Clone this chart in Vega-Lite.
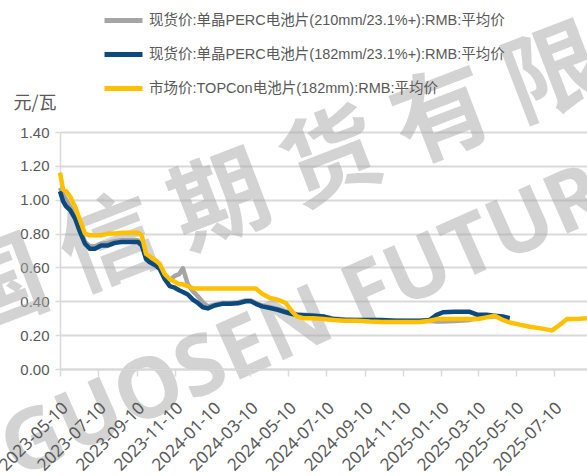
{
  "$schema": "https://vega.github.io/schema/vega-lite/v6.json",
  "autosize": "none",
  "width": 527,
  "height": 237,
  "padding": {"left": 60, "top": 132, "right": 0, "bottom": 107},
  "background": "white",
  "config": {"view": {"stroke": null}},
  "data": {"values": [
    {"date": "2023-05-10", "p210": 1.07, "p182": 1.05, "top": 1.16},
    {"date": "2023-05-15", "p210": 1.03, "p182": 0.99, "top": 1.06},
    {"date": "2023-05-20", "p210": 1.00, "p182": 0.96, "top": 1.05},
    {"date": "2023-05-26", "p210": 0.96, "p182": 0.94, "top": 1.02},
    {"date": "2023-06-03", "p210": 0.91, "p182": 0.89, "top": 0.96},
    {"date": "2023-06-11", "p210": 0.83, "p182": 0.81, "top": 0.88},
    {"date": "2023-06-19", "p210": 0.75, "p182": 0.74, "top": 0.80},
    {"date": "2023-06-27", "p210": 0.725, "p182": 0.71, "top": 0.79},
    {"date": "2023-07-05", "p210": 0.725, "p182": 0.71, "top": 0.79},
    {"date": "2023-07-15", "p210": 0.74, "p182": 0.73, "top": 0.79},
    {"date": "2023-07-26", "p210": 0.745, "p182": 0.73, "top": 0.80},
    {"date": "2023-08-06", "p210": 0.755, "p182": 0.745, "top": 0.80},
    {"date": "2023-08-17", "p210": 0.76, "p182": 0.75, "top": 0.805},
    {"date": "2023-08-30", "p210": 0.76, "p182": 0.75, "top": 0.805},
    {"date": "2023-09-12", "p210": 0.76, "p182": 0.75, "top": 0.805},
    {"date": "2023-09-18", "p210": 0.74, "p182": 0.73, "top": 0.79},
    {"date": "2023-09-25", "p210": 0.67, "p182": 0.65, "top": 0.68},
    {"date": "2023-10-01", "p210": 0.65, "p182": 0.63, "top": 0.665},
    {"date": "2023-10-09", "p210": 0.63, "p182": 0.615, "top": 0.645},
    {"date": "2023-10-17", "p210": 0.60, "p182": 0.59, "top": 0.62},
    {"date": "2023-10-25", "p210": 0.545, "p182": 0.53, "top": 0.56},
    {"date": "2023-11-02", "p210": 0.525, "p182": 0.49, "top": 0.53},
    {"date": "2023-11-10", "p210": 0.55, "p182": 0.48, "top": 0.515},
    {"date": "2023-11-17", "p210": 0.56, "p182": 0.465, "top": 0.50},
    {"date": "2023-11-23", "p210": 0.595, "p182": 0.455, "top": 0.50},
    {"date": "2023-12-01", "p210": 0.50, "p182": 0.44, "top": 0.49},
    {"date": "2023-12-09", "p210": 0.46, "p182": 0.41, "top": 0.477},
    {"date": "2023-12-17", "p210": 0.43, "p182": 0.39, "top": 0.475},
    {"date": "2023-12-25", "p210": 0.395, "p182": 0.365, "top": 0.475},
    {"date": "2024-01-02", "p210": 0.37, "p182": 0.358, "top": 0.475},
    {"date": "2024-01-13", "p210": 0.38, "p182": 0.375, "top": 0.475},
    {"date": "2024-01-25", "p210": 0.39, "p182": 0.385, "top": 0.475},
    {"date": "2024-02-07", "p210": 0.39, "p182": 0.385, "top": 0.475},
    {"date": "2024-02-19", "p210": 0.393, "p182": 0.388, "top": 0.475},
    {"date": "2024-03-03", "p210": 0.405, "p182": 0.40, "top": 0.475},
    {"date": "2024-03-11", "p210": 0.405, "p182": 0.40, "top": 0.475},
    {"date": "2024-03-19", "p210": 0.39, "p182": 0.385, "top": 0.475},
    {"date": "2024-03-29", "p210": 0.375, "p182": 0.37, "top": 0.445},
    {"date": "2024-04-11", "p210": 0.365, "p182": 0.36, "top": 0.42},
    {"date": "2024-04-23", "p210": 0.355, "p182": 0.35, "top": 0.41},
    {"date": "2024-05-06", "p210": 0.34, "p182": 0.335, "top": 0.39},
    {"date": "2024-05-16", "p210": 0.33, "p182": 0.325, "top": 0.34},
    {"date": "2024-05-24", "p210": 0.322, "p182": 0.32, "top": 0.31},
    {"date": "2024-06-03", "p210": 0.32, "p182": 0.318, "top": 0.30},
    {"date": "2024-06-19", "p210": 0.317, "p182": 0.315, "top": 0.30},
    {"date": "2024-07-05", "p210": 0.31, "p182": 0.31, "top": 0.295},
    {"date": "2024-07-21", "p210": 0.298, "p182": 0.295, "top": 0.29},
    {"date": "2024-08-09", "p210": 0.292, "p182": 0.29, "top": 0.285},
    {"date": "2024-08-28", "p210": 0.29, "p182": 0.29, "top": 0.285},
    {"date": "2024-09-18", "p210": 0.29, "p182": 0.29, "top": 0.28},
    {"date": "2024-10-07", "p210": 0.288, "p182": 0.29, "top": 0.278},
    {"date": "2024-10-28", "p210": 0.285, "p182": 0.285, "top": 0.278},
    {"date": "2024-11-16", "p210": 0.283, "p182": 0.285, "top": 0.278},
    {"date": "2024-12-07", "p210": 0.283, "p182": 0.285, "top": 0.278},
    {"date": "2024-12-23", "p210": 0.283, "p182": 0.29, "top": 0.285},
    {"date": "2025-01-03", "p210": 0.28, "p182": 0.32, "top": 0.295},
    {"date": "2025-01-13", "p210": 0.28, "p182": 0.335, "top": 0.295},
    {"date": "2025-02-01", "p210": 0.283, "p182": 0.338, "top": 0.295},
    {"date": "2025-02-25", "p210": 0.29, "p182": 0.338, "top": 0.295},
    {"date": "2025-03-10", "p210": 0.30, "p182": 0.32, "top": 0.295},
    {"date": "2025-03-24", "p210": 0.31, "p182": 0.32, "top": 0.305},
    {"date": "2025-04-06", "p210": 0.31, "p182": 0.315, "top": 0.315},
    {"date": "2025-04-19", "p210": 0.305, "p182": 0.31, "top": 0.29},
    {"date": "2025-04-30", "p210": 0.30, "p182": 0.30, "top": 0.275},
    {"date": "2025-05-16", "top": 0.262},
    {"date": "2025-06-01", "top": 0.25},
    {"date": "2025-06-19", "top": 0.24},
    {"date": "2025-07-07", "top": 0.228},
    {"date": "2025-07-19", "top": 0.26},
    {"date": "2025-07-31", "top": 0.295},
    {"date": "2025-08-16", "top": 0.295},
    {"date": "2025-09-01", "top": 0.30}
  ]},
  "transform": [
    {"fold": ["p210", "p182", "top"], "as": ["series", "price"]}
  ],
  "encoding": {
    "x": {
      "field": "date", "type": "temporal",
      "scale": {"type": "utc", "domain": [{"year": 2023, "month": 5, "date": 10, "utc": true}, {"year": 2025, "month": 9, "date": 1, "utc": true}]},
      "axis": {
        "title": null,
        "grid": false,
        "zindex": 1,
        "values": [
          {"year": 2023, "month": 5, "date": 10, "utc": true},
          {"year": 2023, "month": 7, "date": 10, "utc": true},
          {"year": 2023, "month": 9, "date": 10, "utc": true},
          {"year": 2023, "month": 11, "date": 10, "utc": true},
          {"year": 2024, "month": 1, "date": 10, "utc": true},
          {"year": 2024, "month": 3, "date": 10, "utc": true},
          {"year": 2024, "month": 5, "date": 10, "utc": true},
          {"year": 2024, "month": 7, "date": 10, "utc": true},
          {"year": 2024, "month": 9, "date": 10, "utc": true},
          {"year": 2024, "month": 11, "date": 10, "utc": true},
          {"year": 2025, "month": 1, "date": 10, "utc": true},
          {"year": 2025, "month": 3, "date": 10, "utc": true},
          {"year": 2025, "month": 5, "date": 10, "utc": true},
          {"year": 2025, "month": 7, "date": 10, "utc": true}
        ],
        "format": "%Y-%m-%d",
        "labelAngle": -45,
        "labelAlign": "right",
        "labelBaseline": "middle",
        "labelOffset": 5,
        "labelPadding": 29,
        "labelFont": "Noto Sans",
        "labelFontSize": 17,
        "labelColor": "#595959",
        "labelOverlap": false,
        "labelFlush": false,
        "domainColor": "#d9d9d9",
        "domainWidth": 2,
        "tickColor": "#d9d9d9",
        "tickWidth": 1.5,
        "tickSize": 7
      }
    },
    "y": {
      "field": "price", "type": "quantitative",
      "scale": {"domain": [0, 1.4], "nice": false},
      "axis": {
        "values": [0, 0.2, 0.4, 0.6, 0.8, 1.0, 1.2, 1.4],
        "format": ".2f",
        "title": "元/瓦",
        "titleAngle": 0,
        "titleAlign": "left",
        "titleBaseline": "middle",
        "titleX": -47,
        "titleY": -29,
        "titleFont": "Noto Sans CJK SC",
        "titleFontSize": 18,
        "titleFontWeight": "normal",
        "titleColor": "#595959",
        "labelFont": "Liberation Sans",
        "labelFontSize": 15,
        "labelColor": "#595959",
        "labelPadding": 6,
        "grid": true,
        "gridColor": "#d9d9d9",
        "gridWidth": 2,
        "domainColor": "#d9d9d9",
        "domainWidth": 1.5,
        "tickColor": "#d9d9d9",
        "tickWidth": 1.5,
        "tickSize": 5
      }
    }
  },
  "layer": [
    {
      "transform": [{"window": [{"op": "row_number", "as": "rn"}]}, {"filter": "datum.rn === 1"}],
      "mark": {"type": "text", "text": "国 信 期 货 有 限", "font": "Noto Sans CJK SC", "fontWeight": "bold", "fontSize": 97, "angle": -21, "align": "center", "baseline": "middle", "color": "#a8a8a8", "opacity": 0.5},
      "encoding": {
        "x": {"datum": {"year": 2024, "month": 4, "date": 22, "utc": true}, "type": "temporal"},
        "y": {"datum": 1.095, "type": "quantitative"}
      }
    },
    {
      "transform": [{"window": [{"op": "row_number", "as": "rn"}]}, {"filter": "datum.rn === 1"}],
      "mark": {"type": "text", "text": "GUOSEN FUTURES", "font": "Noto Sans", "fontWeight": "bold", "fontSize": 84, "angle": -24, "align": "center", "baseline": "middle", "color": "#a8a8a8", "opacity": 0.5},
      "encoding": {
        "x": {"datum": {"year": 2024, "month": 8, "date": 11, "utc": true}, "type": "temporal"},
        "y": {"datum": 0.38, "type": "quantitative"}
      }
    },
    {
      "transform": [{"filter": "datum.series === 'p210'"}],
      "mark": {"type": "line", "strokeWidth": 4.5, "strokeJoin": "round"},
      "encoding": {"color": {"field": "series", "type": "nominal"}}
    },
    {
      "transform": [{"filter": "datum.series === 'p182'"}],
      "mark": {"type": "line", "strokeWidth": 4.5, "strokeJoin": "round"},
      "encoding": {"color": {"field": "series", "type": "nominal"}}
    },
    {
      "transform": [{"filter": "datum.series === 'top'"}],
      "mark": {"type": "line", "strokeWidth": 4.5, "strokeJoin": "round"},
      "encoding": {
        "color": {
          "field": "series", "type": "nominal",
          "scale": {"domain": ["p210", "p182", "top"], "range": ["#a5a5a5", "#0c4a7e", "#ffc000"]},
          "legend": {
            "title": null,
            "orient": "none",
            "legendX": 42,
            "legendY": -133,
            "direction": "vertical",
            "padding": 0,
            "symbolType": "stroke",
            "symbolSize": 1444,
            "symbolStrokeWidth": 5,
            "rowPadding": 2,
            "labelOffset": 4,
            "labelLimit": 0,
            "labelFont": "Liberation Sans, Noto Sans CJK SC, sans-serif",
            "labelFontSize": 14.5,
            "labelColor": "#595959",
            "labelExpr": "datum.value === 'p210' ? '现货价:单晶PERC电池片(210mm/23.1%+):RMB:平均价' : datum.value === 'p182' ? '现货价:单晶PERC电池片(182mm/23.1%+):RMB:平均价' : '市场价:TOPCon电池片(182mm):RMB:平均价'"
          }
        }
      }
    }
  ]
}
